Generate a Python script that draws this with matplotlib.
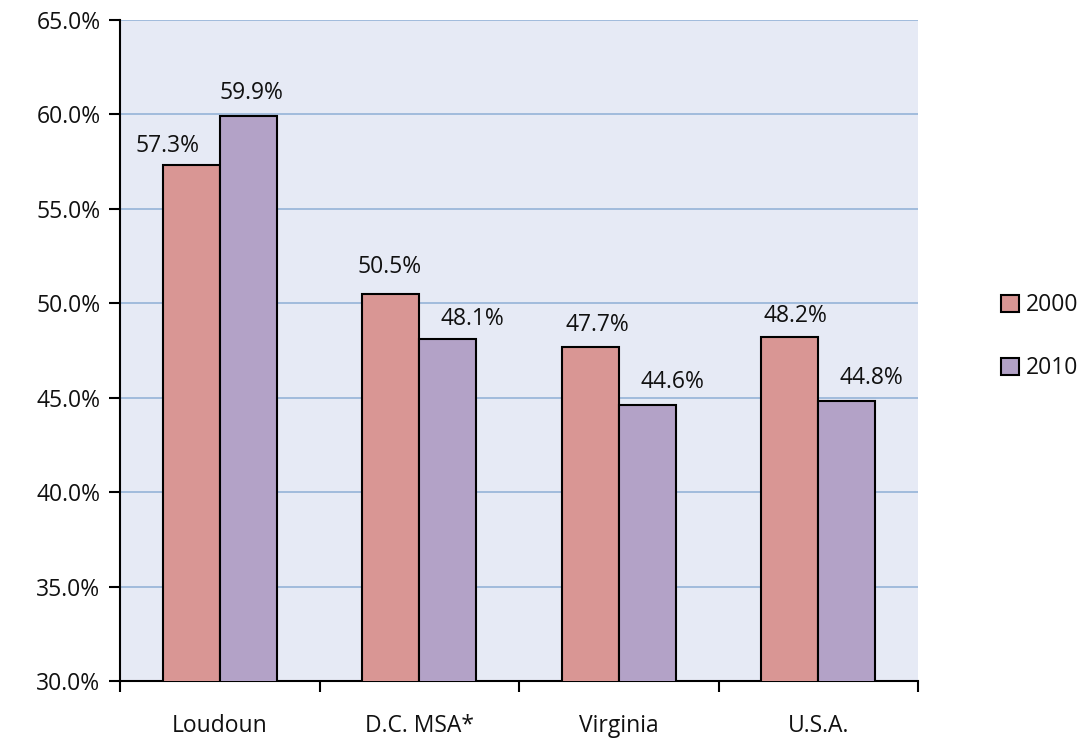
import numpy as np
import matplotlib.pyplot as plt
from matplotlib.patches import Patch

# data
regions = ["Loudoun", "D.C. MSA*", "Virginia", "U.S.A."]
years = ["2000", "2010"]
share_2000 = [57.3, 50.5, 47.7, 48.2]
share_2010 = [59.9, 48.1, 44.6, 44.8]

colors = ["#D99694", "#B3A2C7"]
# label offsets (points), mimicking the uneven placement of the original labels
label_dx = [[-17, -1, 5, 4], [2, 18, 18, 18]]
label_dy = [[5, 11, 7, 7], [8, 6, 8, 8]]

plt.rcParams['font.family'] = ['Open Sans', 'DejaVu Sans']

fig = plt.figure(figsize=(10.84, 7.42), dpi=100)
ax = fig.add_axes([120 / 1084, 61 / 742, 798 / 1084, 661 / 742])
ax.set_facecolor("#E6EAF5")

x = np.arange(len(regions))
w = 1 / 3.5
series = [share_2000, share_2010]
for k, vals in enumerate(series):
    pos = x + (k - 0.5) * w
    ax.bar(pos, vals, width=w, color=colors[k], edgecolor="black",
           linewidth=1.5, zorder=3)
    for i, v in enumerate(vals):
        ax.annotate(f"{v:.1f}%", (pos[i], v),
                    xytext=(label_dx[k][i], label_dy[k][i]),
                    textcoords="offset points", ha="center", va="bottom",
                    fontsize=16.5, color="#111111")

ax.set_ylim(30, 65)
ax.set_xlim(-0.5, len(regions) - 0.5)
yt = np.arange(30, 65.1, 5)
ax.set_yticks(yt)
ax.set_yticklabels([f"{t:.1f}%" for t in yt], fontsize=16.5, color="#111111")
ax.yaxis.grid(True, color="#95B3D7", linewidth=1.2, zorder=0)
ax.set_axisbelow(True)

ax.set_xticks(x)
ax.set_xticklabels(regions, fontsize=16.5, color="#111111")
ax.tick_params(axis="x", length=0, pad=24)
ax.set_xticks(np.arange(-0.5, len(regions)), minor=True)
ax.tick_params(axis="x", which="minor", length=8, width=1.5, direction="out")
ax.tick_params(axis="y", length=8, width=1.5, direction="out", pad=6)

for s in ["top", "right"]:
    ax.spines[s].set_visible(False)
for s in ["left", "bottom"]:
    ax.spines[s].set_linewidth(1.5)

handles = [Patch(facecolor=c, edgecolor="black", linewidth=1.5) for c in colors]
fig.legend(handles, years, loc="center left", bbox_to_anchor=(980 / 1084, 0.546),
           frameon=False, fontsize=16.5, handlelength=0.8, handleheight=0.8,
           handletextpad=0.3, labelspacing=1.7, labelcolor="#111111")

fig.savefig("out.png", dpi=100)
